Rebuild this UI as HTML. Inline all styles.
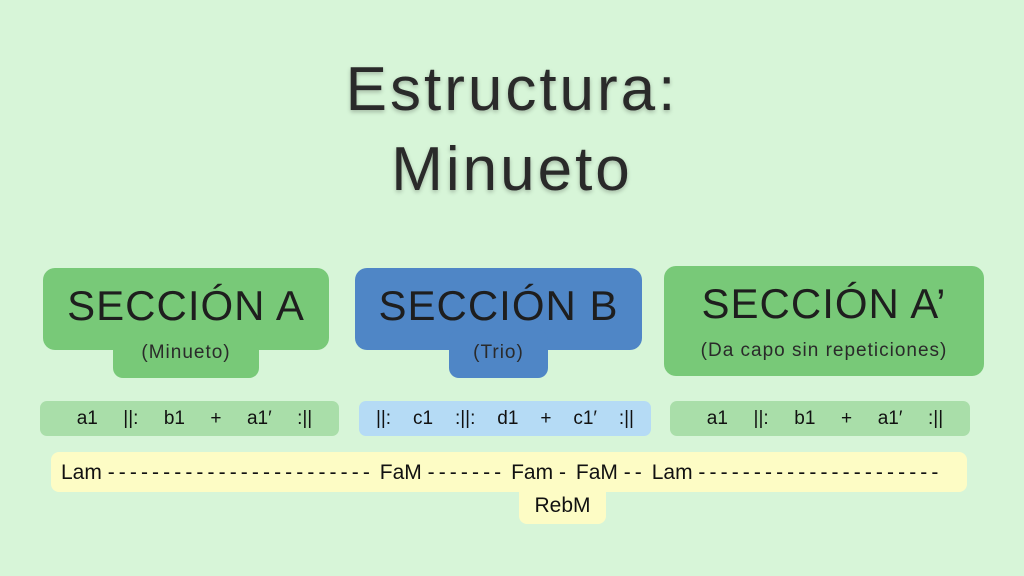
<!DOCTYPE html>
<html><head><meta charset="utf-8"><style>
*{margin:0;padding:0;box-sizing:border-box}
body{width:1024px;height:576px;background:#d7f5d8;position:relative;overflow:hidden;font-family:"Liberation Sans",sans-serif;color:#111}
.a{position:absolute}
.t{position:absolute;width:100%;text-align:center;white-space:nowrap}
.title{font-size:62px;letter-spacing:3px;color:#2a2a2a;text-shadow:0 2px 4px rgba(0,0,0,.25)}
.big{font-size:42px;letter-spacing:1px;color:#1e1e1e}
.sub{font-size:19px;letter-spacing:1px;color:#2a2a2a}
.row{font-size:19px;color:#111;display:flex;justify-content:space-around;align-items:center;padding:0 18px}
.d{letter-spacing:4.1px}
</style></head><body>
<div class="t title" style="top:54px;left:0">Estructura:</div>
<div class="t title" style="top:134px;left:0">Minueto</div>

<div class="a" style="left:43px;top:268px;width:286px;height:82px;background:#78c978;border-radius:12px"></div>
<div class="a" style="left:113px;top:330px;width:146px;height:48px;background:#78c978;border-radius:10px"></div>
<div class="a" style="left:43px;top:282px;width:286px"><div class="t big" style="position:relative">SECCIÓN A</div></div>
<div class="a" style="left:113px;top:342px;width:146px"><div class="t sub" style="position:relative">(Minueto)</div></div>

<div class="a" style="left:355px;top:268px;width:287px;height:82px;background:#4f86c6;border-radius:12px"></div>
<div class="a" style="left:449px;top:330px;width:99px;height:48px;background:#4f86c6;border-radius:10px"></div>
<div class="a" style="left:355px;top:282px;width:287px"><div class="t big" style="position:relative">SECCIÓN B</div></div>
<div class="a" style="left:449px;top:342px;width:99px"><div class="t sub" style="position:relative">(Trio)</div></div>

<div class="a" style="left:664px;top:266px;width:320px;height:110px;background:#78c978;border-radius:12px"></div>
<div class="a" style="left:664px;top:280px;width:320px"><div class="t big" style="position:relative">SECCIÓN A’</div></div>
<div class="a" style="left:664px;top:340px;width:320px"><div class="t sub" style="position:relative">(Da capo sin repeticiones)</div></div>

<div class="a row" style="left:40px;top:401px;width:299px;height:35px;background:#a9dea9;border-radius:7px;padding:0 14px 0 24px"><span>a1</span><span>||:</span><span>b1</span><span>+</span><span>a1′</span><span>:||</span></div>
<div class="a row" style="left:359px;top:401px;width:292px;height:35px;background:#b5dbf5;border-radius:7px;padding:0 6px"><span>||:</span><span>c1</span><span>:||:</span><span>d1</span><span>+</span><span>c1′</span><span>:||</span></div>
<div class="a row" style="left:670px;top:401px;width:300px;height:35px;background:#a9dea9;border-radius:7px;padding:0 14px 0 24px"><span>a1</span><span>||:</span><span>b1</span><span>+</span><span>a1′</span><span>:||</span></div>

<div class="a" style="left:51px;top:452px;width:916px;height:40px;background:#fdfcc5;border-radius:8px"></div>
<div class="a" style="left:519px;top:480px;width:87px;height:44px;background:#fdfcc5;border-radius:8px"></div>
<div class="a" style="left:61px;top:461px;font-size:21px;white-space:nowrap">Lam <span class="d">------------------------</span> FaM <span class="d">-------</span> Fam <span class="d">-</span> FaM <span class="d">--</span> Lam <span class="d">----------------------</span></div>
<div class="a" style="left:519px;top:494px;width:87px;text-align:center;font-size:21px">RebM</div>
</body></html>
